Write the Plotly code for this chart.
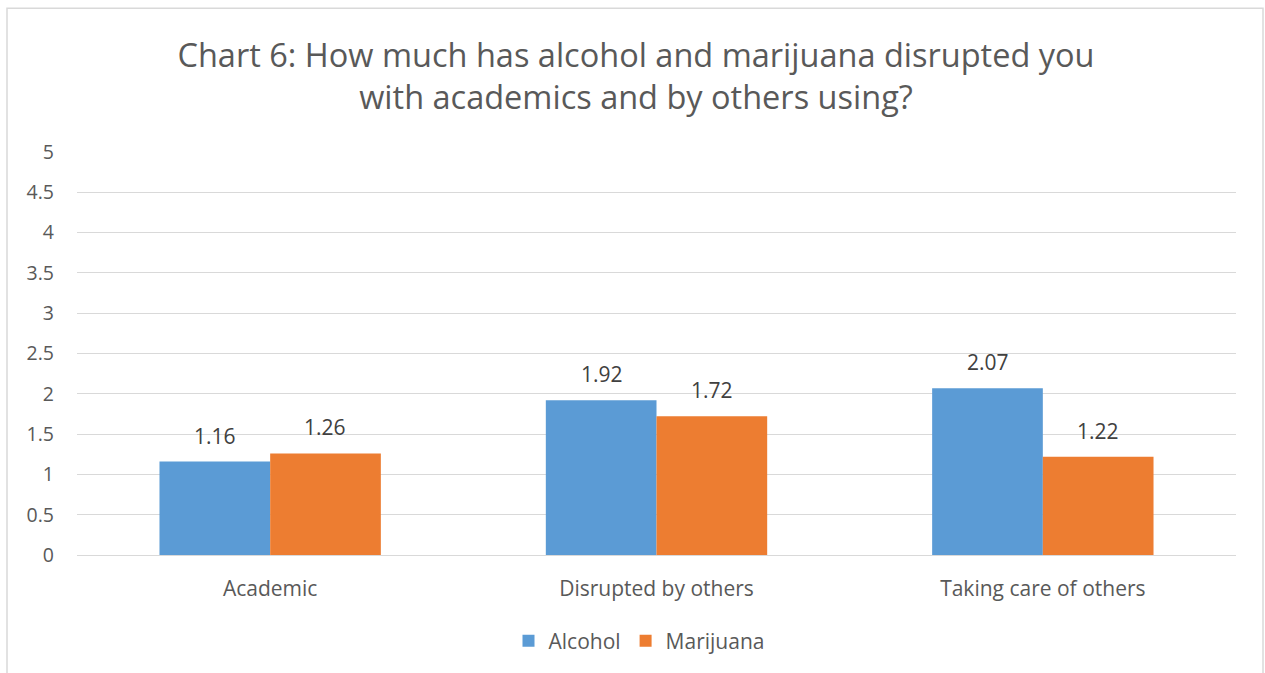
import plotly.graph_objects as go

categories = ["Academic", "Disrupted by others", "Taking care of others"]
alcohol = [1.16, 1.92, 2.07]
marijuana = [1.26, 1.72, 1.22]
y_ticks = [0, 0.5, 1, 1.5, 2, 2.5, 3, 3.5, 4, 4.5, 5]
y_tick_text = ["0", "0.5", "1", "1.5", "2", "2.5", "3", "3.5", "4", "4.5", "5"]

FONT = "'Open Sans', sans-serif"
GREY = "#595959"
LABEL = "#404040"

fig = go.Figure()
fig.add_trace(go.Bar(
    name="Alcohol", x=categories, y=alcohol,
    marker=dict(color="#5B9BD5", line=dict(width=0)),
))
fig.add_trace(go.Bar(
    name="Marijuana", x=categories, y=marijuana,
    marker=dict(color="#ED7D31", line=dict(width=0)),
))

# Value labels above each bar, shifted to the bar centre within its group
for values, shift in ((alcohol, -55), (marijuana, 55)):
    for cat, v in zip(categories, values):
        fig.add_annotation(
            x=cat, y=v, xref="x", yref="y", text=f"{v:.2f}",
            showarrow=False, xshift=shift, yanchor="bottom", yshift=10,
            font=dict(size=21, color=LABEL, family=FONT),
        )

fig.update_layout(
    width=1265, height=673,
    paper_bgcolor="white", plot_bgcolor="white",
    margin=dict(l=77, r=29, t=152, b=117),
    barmode="group", bargap=0.427, bargroupgap=0,
    font=dict(family=FONT, color=GREY, size=19),
    title=dict(
        text="Chart 6: How much has alcohol and marijuana disrupted you<br>with academics and by others using?",
        x=636 / 1265, xanchor="center", xref="container",
        y=1 - 67 / 673, yanchor="middle", yref="container",
        font=dict(size=32.5, color=GREY, family=FONT),
    ),
    xaxis=dict(showline=True, linecolor="#D9D9D9", linewidth=1, ticks="",
               tickfont=dict(size=21, color=GREY), showgrid=False,
               ticklabelstandoff=15),
    yaxis=dict(range=[0, 5], tickvals=y_ticks, ticktext=y_tick_text,
               showgrid=True, gridcolor="#D9D9D9", gridwidth=1,
               zeroline=False, showline=False, ticks="", ticklabelstandoff=22,
               tickfont=dict(size=19.5, color=GREY)),
    legend=dict(orientation="h", x=(639 - 77) / 1159, xanchor="center",
                y=-0.16, yanchor="top",
                font=dict(size=21, color=GREY), itemwidth=30),
    showlegend=True,
)
# Light grey frame around the whole chart
fig.add_shape(type="rect", xref="paper", yref="paper",
              x0=(7 - 77) / 1159, x1=(1263 - 77) / 1159,
              y0=(556 - 700) / 404, y1=(556 - 8) / 404,
              line=dict(color="#D9D9D9", width=1.5), fillcolor="rgba(0,0,0,0)",
              layer="below")

fig.write_html("out.html")
